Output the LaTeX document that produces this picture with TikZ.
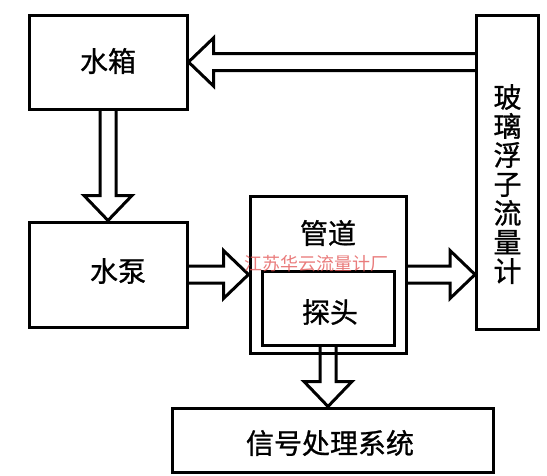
\documentclass[tikz,border=0pt]{standalone}
\usepackage{fontspec}
\newfontfamily\cjk[FakeBold=0.9]{Noto Sans CJK SC}
\newfontfamily\cjkw{Noto Sans CJK SC}
\usetikzlibrary{calc}
\tikzset{
  boxnode/.style={draw=black, line width=3pt, minimum width=#1, inner sep=0pt},
  lbl/.style={font=\cjk\fontsize{28}{28}\selectfont, inner sep=0pt, text=black},
  wmark/.style={font=\cjkw\fontsize{18}{18}\selectfont, inner sep=0pt, text={rgb,255:red,226;green,80;blue,80}, opacity=0.75},
  blk/.style={draw=black, line width=3pt, line join=miter, miter limit=10}
}
% right-pointing block arrow: tail #1, tip #2 (same y as tail)
\newcommand{\blockR}[2]{\draw[blk] let \p1=(#1), \p2=(#2) in
  (\x1,\y1+8.5pt) -- (\x2-25pt,\y1+8.5pt) -- (\x2-25pt,\y1+24pt) -- (\x2,\y1)
  -- (\x2-25pt,\y1-24pt) -- (\x2-25pt,\y1-8.5pt) -- (\x1,\y1-8.5pt);}
\newcommand{\blockL}[2]{\draw[blk] let \p1=(#1), \p2=(#2) in
  (\x1,\y1+8.5pt) -- (\x2+25pt,\y1+8.5pt) -- (\x2+25pt,\y1+24pt) -- (\x2,\y1)
  -- (\x2+25pt,\y1-24pt) -- (\x2+25pt,\y1-8.5pt) -- (\x1,\y1-8.5pt);}
\newcommand{\blockD}[2]{\draw[blk] let \p1=(#1), \p2=(#2) in
  (\x1-8pt,\y1) -- (\x1-8pt,\y2+25pt) -- (\x1-24pt,\y2+25pt) -- (\x1,\y2)
  -- (\x1+24pt,\y2+25pt) -- (\x1+8pt,\y2+25pt) -- (\x1+8pt,\y1);}
\begin{document}
\begin{tikzpicture}[x=1pt,y=-1pt]
\useasboundingbox (0,0) rectangle (547,475);
% boxes
\node[boxnode=158pt, minimum height=94pt] (tank) at (108,62) {};
\node[boxnode=62pt, minimum height=314pt] (meter) at (507.5,172) {};
\node[boxnode=158pt, minimum height=105pt] (pump) at (108,274.5) {};
\node[boxnode=156pt, minimum height=157pt] (pipe) at (328,274.5) {};
\node[boxnode=132pt, minimum height=74pt] (probe) at (328,308) {};
\node[boxnode=321pt, minimum height=64pt] (signal) at (332.5,440) {};
% labels
\node[lbl] (tankT) at (108,61) {水箱};
\node[lbl] (pumpT) at (118,271) {水泵};
\node[lbl] (pipeT) at (328,233) {管道};
\node[lbl] (probeT) at (330,312) {探头};
\node[lbl] (signalT) at (330,443) {信号处理系统};
\node[lbl, align=center, font=\cjk\fontsize{28}{29}\selectfont] (meterT) at (507.5,184) {玻\\璃\\浮\\子\\流\\量\\计};
% block arrows
\blockL{meter.west |- tank.east}{tank.east}
\blockD{tank.south}{tank.south |- pump.north}
\blockR{pump.east}{pump.east -| pipe.west}
\blockR{pipe.east}{pipe.east -| meter.west}
\blockD{probe.south}{probe.south |- signal.north}
% watermark
\node[wmark] (wm) at (316,264) {江苏华云流量计厂};
\end{tikzpicture}
\end{document}
